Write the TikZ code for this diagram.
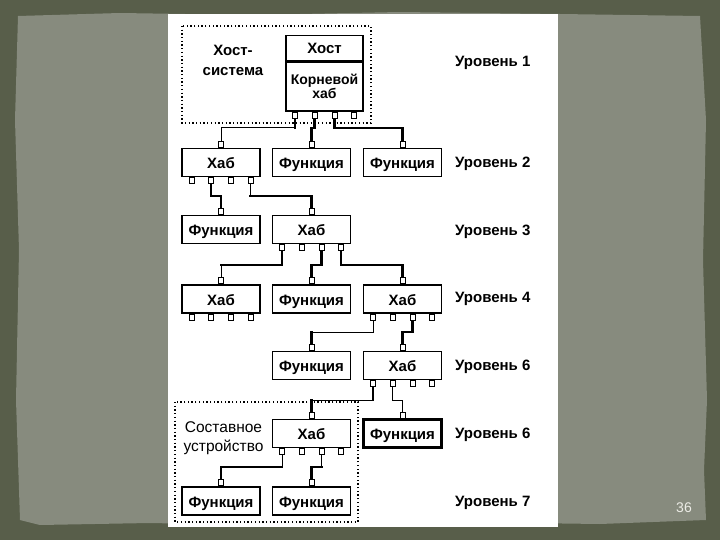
\documentclass[tikz,border=0pt]{standalone}
\usepackage{fontspec}
\setmainfont{Liberation Sans}
\usetikzlibrary{calc}
\definecolor{bgdark}{HTML}{585E4A}
\definecolor{paper}{HTML}{878B7E}
\definecolor{pgnum}{HTML}{ECECE6}
\pgfdeclarelayer{back}
\pgfdeclarelayer{wires}
\pgfsetlayers{back,wires,main}
\tikzset{
  box/.style={draw, line width=1.3pt, fill=white, minimum width=78pt, minimum height=28pt,
    inner sep=0pt, text height=12pt, text depth=0pt, font=\fontsize{15}{16}\selectfont\bfseries},
  port/.style={draw, line width=0.9pt, fill=white, minimum width=5pt, minimum height=6pt, inner sep=0pt},
  thk/.style={line width=2.2pt, line cap=rect},
  thn/.style={line width=1pt, line cap=rect},
  lvl/.style={anchor=west, inner sep=0pt, font=\fontsize{15}{16}\selectfont\bfseries},
  grp/.style={draw, line width=1.3pt, dash pattern=on 1.3pt off 2.4pt},
}
\newcommand\hubports[1]{%
  \foreach \k/\dx in {1/-29.5,2/-10,3/10,4/29.5}
    \node[port, anchor=north] (#1-\k) at ($(#1.south)+(\dx,0)$) {};}
\newcommand\topport[1]{\node[port, anchor=south] (#1-t) at (#1.north) {};}
\newcommand\conn[6]{%
  \begin{pgfonlayer}{wires}
  \draw[#4] (#1.south) -- (#1.south |- #3);
  \draw[#5] (#1.south |- #3) -- (#2.north |- #3);
  \draw[#6] (#2.north |- #3) -- (#2.north);
  \end{pgfonlayer}}
\begin{document}
\begin{tikzpicture}[x=1pt, y=-1pt]
\useasboundingbox (0,0) rectangle (720,540);
\begin{pgfonlayer}{back}
\fill[bgdark] (0,0) rectangle (720,540);
\fill[paper] (18,16) -- (120,13) -- (250,15) -- (400,12) -- (560,14) -- (700,16)
  -- (706,120) -- (703,260) -- (707,400) -- (704,470) -- (706,520) -- (600,524)
  -- (450,522) -- (300,526) -- (150,523) -- (40,525) -- (20,520) -- (16,400)
  -- (19,250) -- (15,120) -- cycle;
\fill[white] (168,14) rectangle (557.5,527);
\end{pgfonlayer}

% group outlines
\draw[grp] (182,26) rectangle (371,123);
\draw[grp] (175,402) rectangle (358,522);

% host
\node[draw, line width=1.3pt, fill=white, minimum width=77pt, minimum height=25.5pt, inner sep=0pt,
  anchor=north, text height=11pt, text depth=0pt, font=\fontsize{15}{16}\selectfont\bfseries] (host) at (324.5,35) {Хост};
\node[draw, line width=1.3pt, fill=white, minimum width=77pt, minimum height=48.5pt, inner sep=0pt,
  anchor=north, align=center, font=\fontsize{14}{12.5}\selectfont\bfseries] (root) at (host.south) {Корневой\\хаб};
\hubports{root}
\node[align=center, inner sep=0pt, font=\fontsize{15}{20}\selectfont\bfseries] (hsys) at (233,60) {Хост-\\система};

% level 2
\node[box] (h2a) at (221,162.5) {Хаб};
\node[box] (f2b) at (311.5,162.5) {Функция};
\node[box] (f2c) at (402.5,162.5) {Функция};
% level 3
\node[box] (f3a) at (221,229.5) {Функция};
\node[box] (h3b) at (311.5,229.5) {Хаб};
% level 4
\node[box] (h4a) at (221,299) {Хаб};
\node[box] (f4b) at (311.5,299) {Функция};
\node[box] (h4c) at (402.5,299) {Хаб};
% level 5
\node[box] (f5b) at (311.5,365.5) {Функция};
\node[box] (h5c) at (402.5,365.5) {Хаб};
% level 6
\node[box] (h6b) at (311.5,433.5) {Хаб};
\node[box, line width=2.2pt] (f6c) at (402.5,433.5) {Функция};
% level 7
\node[box] (f7a) at (221,501) {Функция};
\node[box] (f7b) at (311.5,501) {Функция};

\foreach \n in {h2a,f2b,f2c,f3a,h3b,h4a,f4b,h4c,f5b,h5c,h6b,f6c,f7a,f7b} {\topport{\n}}
\foreach \n in {h2a,h3b,h4a,h4c,h5c,h6b} {\hubports{\n}}

\node[align=center, inner sep=0pt, font=\fontsize{15.5}{18.5}\selectfont] (comp) at (223.5,438) {Составное\\устройство};

% level labels
\node[lvl] (l1) at (455,63) {Уровень 1};
\node[lvl] (l2) at (455,164) {Уровень 2};
\node[lvl] (l3) at (455,231.5) {Уровень 3};
\node[lvl] (l4) at (455,299) {Уровень 4};
\node[lvl] (l5) at (455,367) {Уровень 6};
\node[lvl] (l6) at (455,435) {Уровень 6};
\node[lvl] (l7) at (455,503) {Уровень 7};

% bus levels
\coordinate (y12) at (0,128);
\coordinate (y23) at (0,196);
\coordinate (y34) at (0,265);
\coordinate (y45) at (0,332);
\coordinate (y56) at (0,400);
\coordinate (y67) at (0,467);

\conn{root-1}{h2a-t}{y12}{thk}{thn}{thn}
\conn{root-2}{f2b-t}{y12}{thk}{thk}{thk}
\conn{root-3}{f2c-t}{y12}{thk}{thk}{thk}
\conn{h2a-2}{f3a-t}{y23}{thk}{thk}{thk}
\conn{h2a-4}{h3b-t}{y23}{thn}{thk}{thk}
\conn{h3b-1}{h4a-t}{y34}{thk}{thk}{thn}
\conn{h3b-3}{f4b-t}{y34}{thk}{thk}{thk}
\conn{h3b-4}{h4c-t}{y34}{thk}{thk}{thk}
\conn{h4c-1}{f5b-t}{y45}{thn}{thn}{thk}
\conn{h4c-3}{h5c-t}{y45}{thk}{thk}{thk}
\conn{h5c-1}{h6b-t}{y56}{thk}{thn}{thk}
\conn{h5c-2}{f6c-t}{y56}{thn}{thn}{thn}
\conn{h6b-1}{f7a-t}{y67}{thn}{thk}{thk}
\conn{h6b-3}{f7b-t}{y67}{thn}{thk}{thk}

\node[text=pgnum, inner sep=0pt, font=\fontsize{14}{14}\selectfont] (pg) at (684,508) {36};
\end{tikzpicture}
\end{document}
